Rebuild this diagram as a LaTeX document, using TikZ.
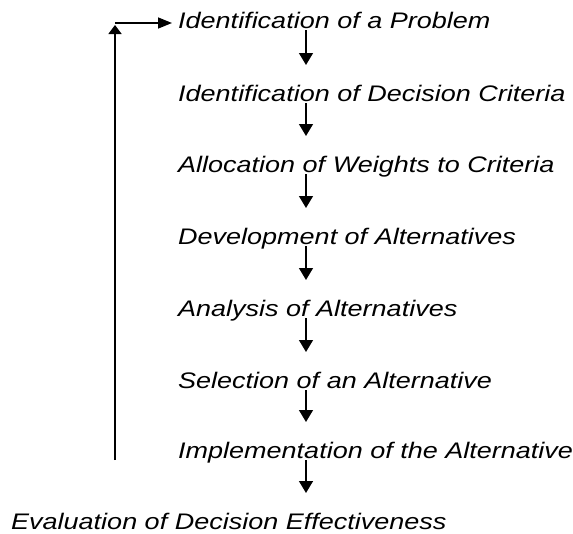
\documentclass[tikz,border=0pt]{standalone}
\usepackage{fontspec}
\newfontfamily\labelfont{Liberation Sans}[FakeStretch=1.2]
\usetikzlibrary{arrows.meta}
\begin{document}
\begin{tikzpicture}[x=1pt,y=1pt,
  stage/.style={anchor=base west,inner sep=0pt,font=\labelfont\itshape\fontsize{22.5}{26}\selectfont},
  flow/.style={line width=1.5pt,-{Triangle[length=12pt,width=14pt]}},
  loop/.style={line width=1.5pt,-{Triangle[length=14pt,width=11pt]}}]
\useasboundingbox (0,0) rectangle (573,-533);
% process stages
\node[stage] (n1) at (178,-28) {Identification of a Problem};
\node[stage] (n2) at (178,-101) {Identification of Decision Criteria};
\node[stage] (n3) at (178,-172) {Allocation of Weights to Criteria};
\node[stage] (n4) at (178,-244) {Development of Alternatives};
\node[stage] (n5) at (178,-316) {Analysis of Alternatives};
\node[stage] (n6) at (178,-388) {Selection of an Alternative};
\node[stage] (n7) at (178,-458) {Implementation of the Alternative};
\node[stage] (n8) at (11,-529) {Evaluation of Decision Effectiveness};
% column of the downward arrows
\coordinate (ax) at (306,0);
\foreach \a/\b in {n1/n2,n2/n3,n3/n4,n4/n5,n5/n6,n6/n7,n7/n8}
  \draw[flow] ([yshift=-2pt]\a.base -| ax) -- ([yshift=36pt]\b.base -| ax);
% feedback loop back to the first stage
\coordinate (foot) at (115,-460);
\coordinate (corner) at (115,-23);
\draw[line width=1.5pt,-{Triangle[length=9pt,width=13pt]}] (foot) -- ([yshift=-2pt]corner);
\draw[loop] (corner) -- ([xshift=-6pt]corner -| n1.west);
\end{tikzpicture}
\end{document}
